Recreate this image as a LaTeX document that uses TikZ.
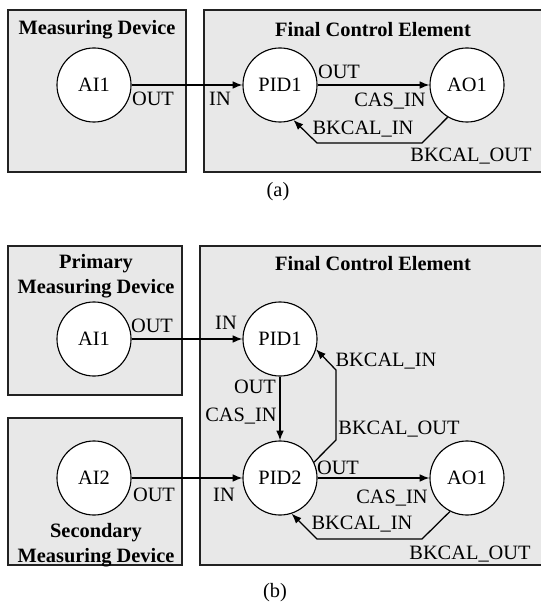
\documentclass[tikz,border=0pt]{standalone}
\usepackage{fontspec}
\setmainfont{Liberation Serif}
\usetikzlibrary{arrows.meta,calc}
\definecolor{BoxClr}{HTML}{E8E8E8}
\definecolor{LineClr}{HTML}{222222}

\tikzset{
  area/.style={draw=LineClr,line width=1.1pt,fill=BoxClr},
  fblock/.style={circle,draw=black,line width=0.8pt,fill=white,minimum size=1.85cm,inner sep=0pt},
  link/.style={line width=0.9pt,-{Latex[length=7pt,width=5.5pt]}},
  title/.style={font=\fontsize{14.5}{17.5}\selectfont\bfseries,align=center,inner sep=0pt},
  port/.style={inner sep=0pt,text depth=0pt}
}

\begin{document}
\begin{tikzpicture}[x=0.025cm,y=-0.025cm,font=\fontsize{14.5}{17}\selectfont]
\useasboundingbox (0,0) rectangle (540,602);

\draw[area] (8,10) rectangle (186,172);
\draw[area] (204,10) rectangle (548,172);
\node[title] (mdA) at (97,30) {Measuring Device};
\node[title] (fceA) at (373,30) {Final Control Element};

\node[fblock] (ai1A) at (94,85) {AI1};
\node[fblock] (pid1A) at (280,85) {PID1};
\node[fblock] (ao1A) at (467,85) {AO1};
\coordinate (bkA1) at (422,143);
\coordinate (bkA2) at (317,143);

\draw[link] (ai1A) -- (pid1A);
\draw[link] (pid1A) -- (ao1A);
\draw[link] (ao1A.-121) -- (bkA1) -- (bkA2) -- (pid1A.-69);

\node[port] (outA1) at (153,99) {OUT};
\node[port] (inA) at (220,99) {IN};
\node[port] (outA2) at (339,72) {OUT};
\node[port] (casA) at (390,100) {CAS\_IN};
\node[port] (bkinA) at (363,128) {BKCAL\_IN};
\node[port] (bkoutA) at (471,155) {BKCAL\_OUT};
\node[port] (capA) at (278,189) {(a)};

\draw[area] (8,246) rectangle (182,395);
\draw[area] (8,418) rectangle (182,565);
\draw[area] (200,246) rectangle (548,565);
\node[title] (pmd) at (96,276) {Primary\\Measuring Device};
\node[title] (smd) at (96,545) {Secondary\\Measuring Device};
\node[title] (fceB) at (373,264) {Final Control Element};

\node[fblock] (ai1B) at (94,339) {AI1};
\node[fblock] (pid1B) at (280,339) {PID1};
\node[fblock] (ai2B) at (94,478) {AI2};
\node[fblock] (pid2B) at (280,478) {PID2};
\node[fblock] (ao1B) at (467,478) {AO1};
\coordinate (bkB1) at (336,440);
\coordinate (bkB2) at (336,370);
\coordinate (bkB3) at (422,539);
\coordinate (bkB4) at (317,539);

\draw[link] (ai1B) -- (pid1B);
\draw[link] (pid1B) -- (pid2B);
\draw[link] (pid2B.25) -- (bkB1) -- (bkB2) -- (pid1B.-16);
\draw[link] (ai2B) -- (pid2B);
\draw[link] (pid2B) -- (ao1B);
\draw[link] (ao1B.-117) -- (bkB3) -- (bkB4) -- (pid2B.-72);

\node[port] (outB1) at (152,326) {OUT};
\node[port] (inB1) at (226,323) {IN};
\node[port] (bkinB1) at (386,360) {BKCAL\_IN};
\node[port] (outB2) at (255,387) {OUT};
\node[port] (casB1) at (241,415) {CAS\_IN};
\node[port] (bkoutB1) at (399,428) {BKCAL\_OUT};
\node[port] (outB3) at (154,495) {OUT};
\node[port] (inB2) at (224,495) {IN};
\node[port] (outB4) at (338,468) {OUT};
\node[port] (casB2) at (392,497) {CAS\_IN};
\node[port] (bkinB2) at (362,523) {BKCAL\_IN};
\node[port] (bkoutB2) at (470,553) {BKCAL\_OUT};
\node[port] (capB) at (275,590) {(b)};

\end{tikzpicture}
\end{document}
